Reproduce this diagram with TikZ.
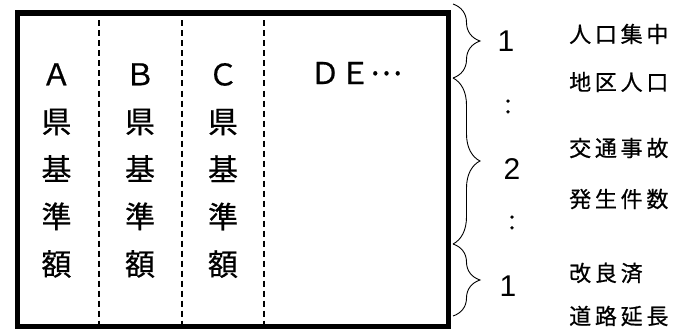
\documentclass[tikz,border=0pt]{standalone}
\usepackage{fontspec}
\newfontfamily\jpfont[FakeBold=0.6]{Noto Sans CJK JP}
\newfontfamily\numfont{Liberation Sans}
\usepackage{tikz}
\usetikzlibrary{decorations.pathreplacing, positioning}

\begin{document}
\begin{tikzpicture}[
    x=1pt, y=-1pt,
    col/.style={align=center, inner sep=0pt, font=\jpfont\fontsize{30}{47.5}\selectfont},
    item/.style={anchor=west, inner sep=0pt, font=\jpfont\fontsize{22}{24}\selectfont\addfontfeature{LetterSpace=17}},
    num/.style={inner sep=0pt, font=\numfont\fontsize{30}{30}\selectfont},
    dots/.style={inner sep=0pt, font=\jpfont\fontsize{22}{22}\selectfont},
    sep/.style={dash pattern=on 6pt off 4pt, line width=2pt},
    brc/.style={decorate, decoration={brace, amplitude=27pt}, line width=0.9pt}
]
    \useasboundingbox (0,0) rectangle (688,329);

    % Frame
    \node[draw, line width=5.5pt, inner sep=0pt, minimum width=431pt, minimum height=313pt,
          anchor=north west] (frame) at (14.5,10.5) {};

    % Column separators
    \coordinate (s1) at (98.5,10.5);
    \coordinate (s2) at (182,10.5);
    \coordinate (s3) at (264,10.5);
    \draw[sep] (s1) -- (s1 |- frame.south);
    \draw[sep] (s2) -- (s2 |- frame.south);
    \draw[sep] (s3) -- (s3 |- frame.south);

    % Columns
    \node[col] (colA) at (56.5,170.5) {Ａ\\県\\基\\準\\額};
    \node[col] (colB) at (140,170.5) {Ｂ\\県\\基\\準\\額};
    \node[col] (colC) at (223,170.5) {Ｃ\\県\\基\\準\\額};
    \node[col] (colD) at (356,73) {ＤＥ\raisebox{9pt}{…}};

    % Braces
    \coordinate (b0) at (453,4);
    \coordinate (b1) at (453,78);
    \coordinate (b2) at (453,244);
    \coordinate (b3) at (453,316);
    \draw[brc] (b0) -- (b1);
    \draw[brc] (b1) -- (b2);
    \draw[brc] (b2) -- (b3);

    % Weights
    \node[num] (w1) at (506,41) {1};
    \node[dots] (d1) at (508,107) {：};
    \node[num] (w2) at (512,169) {2};
    \node[dots] (d2) at (512,223) {：};
    \node[num] (w3) at (508,286) {1};

    % Indicators
    \node[item] (pop1) at (569,34) {人口集中};
    \node[item] (pop2) at (569,82) {地区人口};
    \node[item] (acc1) at (569,148) {交通事故};
    \node[item] (acc2) at (569,199) {発生件数};
    \node[item] (road1) at (569,273) {改良済};
    \node[item] (road2) at (569,316) {道路延長};
\end{tikzpicture}
\end{document}
